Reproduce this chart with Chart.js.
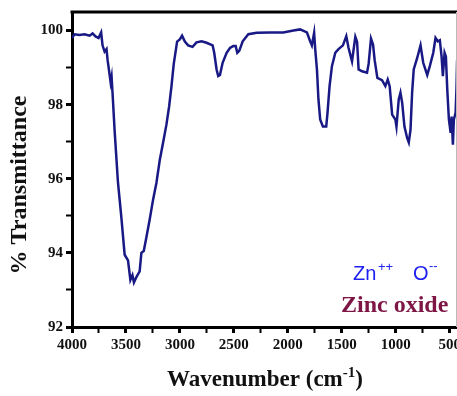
<!DOCTYPE html>
<html lang="en">
<head>
    <meta charset="UTF-8">
    <title>FTIR - Zinc oxide</title>
    <script src="https://cdn.jsdelivr.net/npm/chart.js"></script>
    <style>
        body { margin: 0; background: #fff; }
        #ftir { display: block; }
    </style>
</head>
<body>
    <canvas id="ftir" width="457" height="396"></canvas>
<script>
// Wavenumber (cm-1) and % transmittance
var wavenumbers = [4000, 3977, 3930, 3884, 3837, 3809, 3782, 3754, 3730, 3717, 3698, 3680, 3670, 3651,
    3642, 3633, 3624, 3605, 3574, 3543, 3512, 3481, 3459, 3440, 3426, 3403, 3373, 3357, 3335, 3310,
    3280, 3249, 3217, 3187, 3156, 3125, 3100, 3078, 3057, 3026, 3001, 2980, 2954, 2924, 2883, 2846,
    2799, 2753, 2697, 2682, 2660, 2645, 2629, 2604, 2567, 2536, 2506, 2483, 2468, 2450, 2418, 2366,
    2288, 2164, 2041, 1948, 1886, 1823, 1793, 1777, 1756, 1746, 1730, 1716, 1700, 1675, 1644, 1632,
    1613, 1591, 1560, 1530, 1489, 1458, 1437, 1405, 1374, 1358, 1344, 1312, 1266, 1251, 1229, 1210,
    1195, 1170, 1127, 1096, 1074, 1056, 1033, 1003, 993, 972, 956, 940, 919, 894, 879, 863, 848, 833,
    801, 770, 745, 708, 684, 652, 631, 610, 591, 575, 563, 547, 535, 522, 507, 491, 482, 470, 461,
    445, 436, 431];
var transmittance = [99.8, 99.9, 99.88, 99.9, 99.86, 99.92, 99.84, 99.8, 99.95, 99.6, 99.43, 99.5, 99.2, 98.8,
    98.6, 98.75, 98.3, 97.3, 95.9, 94.97, 93.95, 93.8, 93.27, 93.4, 93.2, 93.35, 93.5, 94.0, 94.05, 94.43,
    94.9, 95.43, 95.9, 96.5, 96.97, 97.46, 97.95, 98.5, 99.1, 99.7, 99.76, 99.86, 99.7, 99.6, 99.56, 99.68,
    99.71, 99.67, 99.6, 99.4, 98.95, 98.77, 98.8, 99.13, 99.4, 99.53, 99.58, 99.58, 99.4, 99.45, 99.71, 99.9,
    99.94, 99.95, 99.95, 100.0, 100.03, 99.95, 99.71, 99.6, 99.94, 99.5, 98.95, 98.14, 97.6, 97.41, 97.41, 97.78,
    98.5, 99.04, 99.4, 99.5, 99.6, 99.85, 99.53, 99.17, 99.83, 99.7, 98.95, 98.9, 98.86, 99.1, 99.78, 99.62,
    99.2, 98.72, 98.66, 98.5, 98.68, 98.5, 97.73, 97.6, 97.41, 98.14, 98.32, 98.05, 97.41, 97.1, 96.98, 97.32, 98.32, 98.95,
    99.26, 99.6, 99.13, 98.8, 99.04, 99.4, 99.8, 99.71, 99.74, 99.3, 98.77, 99.4, 99.3, 98.4, 97.6, 97.24, 97.68, 96.92, 97.6,
    97.78, 98.5, 99.2];

var xMin = 432, xMax = 4000, xStep = 250, xLabelStep = 500;
var yMin = 92, yMax = 100.5, yStep = 1, yLabelStep = 2;

var serif = '"Liberation Serif", "Times New Roman", serif';
var sans = '"Liberation Sans", Arial, sans-serif';

var points = wavenumbers.map(function(w, i) { return { x: w, y: transmittance[i] }; });

// Frame top line and the text labels
var decorations = {
    id: 'decorations',
    afterDraw: function(chart) {
        var ctx = chart.ctx;
        var a = chart.chartArea;
        ctx.save();
        ctx.strokeStyle = '#000';
        ctx.lineWidth = 3;
        ctx.beginPath();
        ctx.moveTo(a.left - 1.5, a.top);
        ctx.lineTo(a.right, a.top);
        ctx.stroke();
        ctx.strokeStyle = '#bbb';
        ctx.lineWidth = 1;
        ctx.beginPath();
        ctx.moveTo(a.right - 0.5, a.top);
        ctx.lineTo(a.right - 0.5, a.bottom);
        ctx.stroke();

        ctx.fillStyle = '#111';
        // y title
        ctx.save();
        ctx.translate(20, 185);
        ctx.rotate(-Math.PI / 2);
        ctx.font = 'bold 24px ' + serif;
        ctx.textAlign = 'center';
        ctx.textBaseline = 'middle';
        ctx.fillText('% Transmittance', 0, 0);
        ctx.restore();

        // x title with superscript
        ctx.textBaseline = 'alphabetic';
        ctx.textAlign = 'left';
        var big = 'bold 23px ' + serif, small = 'bold 15px ' + serif;
        ctx.font = big;
        var w1 = ctx.measureText('Wavenumber (cm').width;
        var w3 = ctx.measureText(')').width;
        ctx.font = small;
        var w2 = ctx.measureText('-1').width;
        var x0 = 265 - (w1 + w2 + w3) / 2;
        ctx.font = big;
        ctx.fillText('Wavenumber (cm', x0, 386);
        ctx.font = small;
        ctx.fillText('-1', x0 + w1, 377);
        ctx.font = big;
        ctx.fillText(')', x0 + w1 + w2, 386);

        // Zn++ O--
        ctx.fillStyle = '#2020f0';
        ctx.font = '20px ' + sans;
        ctx.fillText('Zn', 353, 280);
        ctx.fillText('O', 413, 280);
        ctx.font = '13px ' + sans;
        ctx.fillText('++', 378, 271);
        ctx.fillText('--', 429, 270);

        // Zinc oxide
        ctx.fillStyle = '#7d1645';
        ctx.font = 'bold 24px ' + serif;
        ctx.fillText('Zinc oxide', 341, 312);
        ctx.restore();
    }
};

var ctx = document.getElementById('ftir').getContext('2d');
var ftirChart = new Chart(ctx, {
    type: 'line',
    data: {
        datasets: [{
            data: points,
            borderColor: '#191985',
            borderWidth: 2.5,
            pointRadius: 0,
            tension: 0,
            fill: false
        }]
    },
    options: {
        responsive: false,
        animation: false,
        devicePixelRatio: 1,
        layout: { padding: { top: 12, left: 0, right: 0, bottom: 0 } },
        plugins: { legend: { display: false }, tooltip: { enabled: false } },
        scales: {
            x: {
                type: 'linear',
                reverse: true,
                min: xMin,
                max: xMax,
                afterFit: function(scale) {
                    scale.height = 69;
                    scale.paddingLeft = 0;
                    scale.paddingRight = 0;
                },
                border: { display: true, width: 3, color: '#000' },
                grid: {
                    drawOnChartArea: false,
                    tickLength: 6,
                    tickColor: '#000',
                    tickWidth: function(c) { return c.tick && c.tick.value % xLabelStep === 0 ? 3 : 2; }
                },
                ticks: {
                    stepSize: xStep,
                    includeBounds: false,
                    autoSkip: false,
                    maxRotation: 0,
                    padding: 3,
                    color: '#111',
                    font: { family: serif, size: 15, weight: 'bold' },
                    callback: function(v) { return v % xLabelStep === 0 ? String(v) : ''; }
                }
            },
            y: {
                min: yMin,
                max: yMax,
                afterFit: function(scale) { scale.width = 72; },
                border: { display: true, width: 3, color: '#000' },
                grid: {
                    drawOnChartArea: false,
                    tickLength: 6,
                    tickColor: '#000',
                    tickWidth: function(c) { return c.tick && c.tick.value % yLabelStep === 0 ? 3 : 2; }
                },
                ticks: {
                    stepSize: yStep,
                    includeBounds: false,
                    autoSkip: false,
                    padding: 3,
                    color: '#111',
                    font: { family: serif, size: 15, weight: 'bold' },
                    callback: function(v) { return v % yLabelStep === 0 ? String(v) : ''; }
                }
            }
        }
    },
    plugins: [decorations]
});
</script>
</body>
</html>
